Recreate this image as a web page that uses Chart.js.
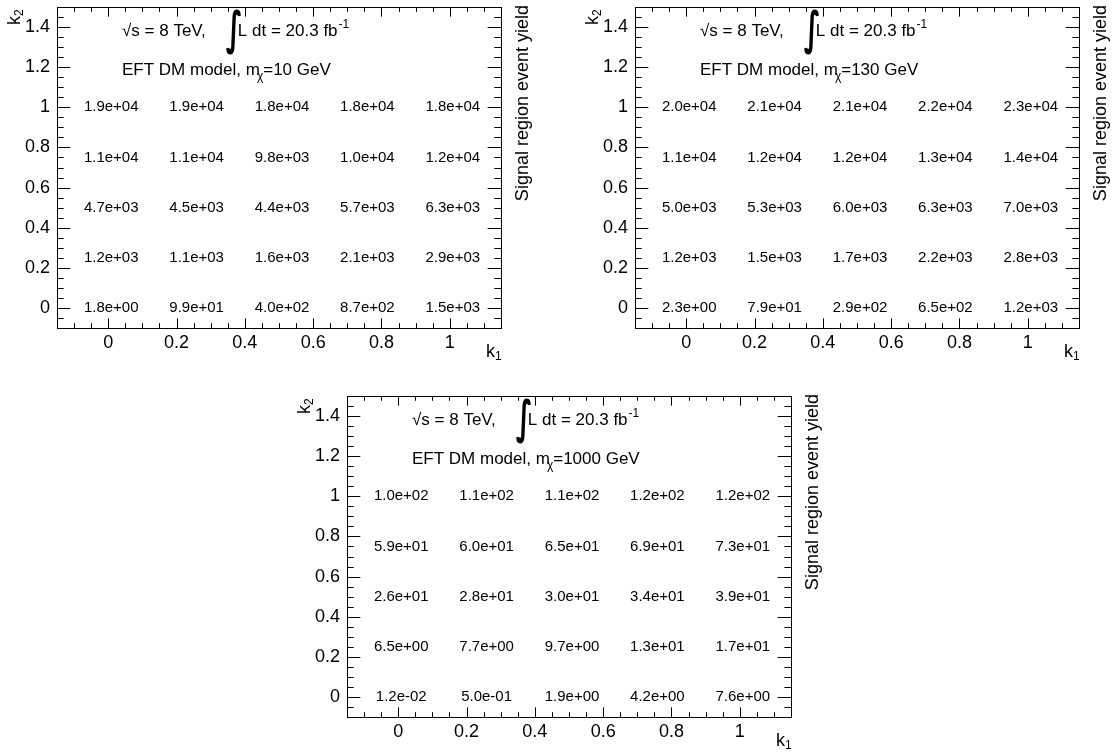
<!DOCTYPE html>
<html><head><meta charset="utf-8">
<script src="https://cdn.jsdelivr.net/npm/chart.js@4.4.1/dist/chart.umd.min.js"></script>
<style>
html,body{margin:0;padding:0;background:#fff;overflow:hidden;width:1114px;height:753px;position:relative;}
canvas{position:absolute;}
</style></head><body>
<canvas id="c1" width="536" height="375" style="left:0px;top:0px"></canvas>
<canvas id="c2" width="536" height="375" style="left:578px;top:0px"></canvas>
<canvas id="c3" width="536" height="375" style="left:290px;top:389px"></canvas>
<script>
// ---- data ----
const k1Values = [0, 0.25, 0.5, 0.75, 1];
const k2Values = [1, 0.75, 0.5, 0.25, 0];
const xTickValues = [0, 0.2, 0.4, 0.6, 0.8, 1];
const yTickValues = [0, 0.2, 0.4, 0.6, 0.8, 1, 1.2, 1.4];
const massLabels = ['10', '130', '1000'];
// rows follow k2Values (top to bottom), columns follow k1Values
const yieldM10 = [
  [1.9e4, 1.9e4, 1.8e4, 1.8e4, 1.8e4],
  [1.1e4, 1.1e4, 9.8e3, 1.0e4, 1.2e4],
  [4.7e3, 4.5e3, 4.4e3, 5.7e3, 6.3e3],
  [1.2e3, 1.1e3, 1.6e3, 2.1e3, 2.9e3],
  [1.8e0, 9.9e1, 4.0e2, 8.7e2, 1.5e3]
];
const yieldM130 = [
  [2.0e4, 2.1e4, 2.1e4, 2.2e4, 2.3e4],
  [1.1e4, 1.2e4, 1.2e4, 1.3e4, 1.4e4],
  [5.0e3, 5.3e3, 6.0e3, 6.3e3, 7.0e3],
  [1.2e3, 1.5e3, 1.7e3, 2.2e3, 2.8e3],
  [2.3e0, 7.9e1, 2.9e2, 6.5e2, 1.2e3]
];
const yieldM1000 = [
  [1.0e2, 1.1e2, 1.1e2, 1.2e2, 1.2e2],
  [5.9e1, 6.0e1, 6.5e1, 6.9e1, 7.3e1],
  [2.6e1, 2.8e1, 3.0e1, 3.4e1, 3.9e1],
  [6.5e0, 7.7e0, 9.7e0, 1.3e1, 1.7e1],
  [1.2e-2, 5.0e-1, 1.9e0, 4.2e0, 7.6e0]
];
const yieldTables = [yieldM10, yieldM130, yieldM1000];

// ---- helpers ----
const FONT = '"Liberation Sans", Arial, Helvetica, sans-serif';
function fmt(v) {
  return v.toExponential(1).replace(/e([+-])(\d+)$/, (m, s, d) => 'e' + s + (d.length < 2 ? '0' + d : d));
}
Chart.defaults.color = '#000';
Chart.defaults.font.family = FONT;

const rootPlugin = {
  id: 'rootStyle',
  afterDatasetsDraw(chart) {
    const ctx = chart.ctx;
    ctx.save();
    ctx.fillStyle = '#000';
    ctx.font = '15px ' + FONT;
    ctx.textAlign = 'center';
    ctx.textBaseline = 'middle';
    const meta = chart.getDatasetMeta(0);
    const ds = chart.data.datasets[0];
    meta.data.forEach((el, i) => {
      ctx.fillText(fmt(ds.data[i].v), el.x + 3, el.y);
    });
    ctx.restore();
  },
  afterDraw(chart, args, opts) {
    const ctx = chart.ctx;
    const a = chart.chartArea;
    const xs = chart.scales.x, ys = chart.scales.y;
    ctx.save();
    ctx.strokeStyle = '#000';
    ctx.lineWidth = 1;
    // frame
    ctx.strokeRect(Math.round(a.left) + 0.5, Math.round(a.top) + 0.5, Math.round(a.right - a.left), Math.round(a.bottom - a.top));
    // ticks
    const w = a.right - a.left, h = a.bottom - a.top;
    const xMaj = 0.03 * h, xMin = xMaj / 2, yMaj = 0.03 * w, yMin = yMaj / 2;
    ctx.beginPath();
    for (let i = -3; i <= 23; i++) {
      const v = i * 0.05;
      if (v < xs.min - 1e-9 || v > xs.max + 1e-9) continue;
      const px = Math.round(xs.getPixelForValue(v)) + 0.5;
      const len = (i % 4 === 0) ? xMaj : xMin;
      ctx.moveTo(px, a.bottom); ctx.lineTo(px, a.bottom - len);
      ctx.moveTo(px, a.top); ctx.lineTo(px, a.top + len);
    }
    for (let i = -2; i <= 30; i++) {
      const v = i * 0.05;
      if (v < ys.min - 1e-9 || v > ys.max + 1e-9) continue;
      const py = Math.round(ys.getPixelForValue(v)) + 0.5;
      const len = (i % 4 === 0) ? yMaj : yMin;
      ctx.moveTo(a.left, py); ctx.lineTo(a.left + len, py);
      ctx.moveTo(a.right, py); ctx.lineTo(a.right - len, py);
    }
    ctx.stroke();

    ctx.fillStyle = '#000';
    ctx.textAlign = 'left';
    ctx.textBaseline = 'alphabetic';
    // header line 1
    let x = a.left + 65;
    let y = a.top + 29;
    ctx.font = '17px ' + FONT;
    let t = '\u221As = 8 TeV,';
    ctx.fillText(t, x, y); x += ctx.measureText(t).width + 20;
    ctx.save();
    ctx.translate(x, y + 8);
    ctx.scale(0.6, 1);
    ctx.font = 'bold 46px "DejaVu Sans"';
    ctx.fillText('\u222B', 0, 0);
    ctx.restore();
    x += 12;
    ctx.font = '17px ' + FONT;
    t = 'L dt = 20.3 fb';
    ctx.fillText(t, x, y); x += ctx.measureText(t).width;
    ctx.font = '12px ' + FONT;
    ctx.fillText('-1', x + 1, y - 8);
    // header line 2
    x = a.left + 65;
    y = a.top + 68;
    ctx.font = '17px ' + FONT;
    t = 'EFT DM model, m';
    ctx.fillText(t, x, y); x += ctx.measureText(t).width;
    ctx.font = '12px ' + FONT;
    ctx.fillText('\u03C7', x - 3, y + 5); x += ctx.measureText('\u03C7').width - 3;
    ctx.font = '17px ' + FONT;
    ctx.fillText('=' + opts.mass + ' GeV', x, y);

    // x axis title k1
    ctx.font = '18px ' + FONT;
    ctx.fillText('k', a.right - 15, a.bottom + 29);
    ctx.font = '12px ' + FONT;
    ctx.fillText('1', a.right - 6, a.bottom + 32);
    // y axis title k2 (rotated)
    ctx.save();
    ctx.translate(a.left - 37, a.top + 18);
    ctx.rotate(-Math.PI / 2);
    ctx.font = '18px ' + FONT;
    ctx.fillText('k', 0, 0);
    ctx.font = '12px ' + FONT;
    ctx.fillText('2', 9, 3);
    ctx.restore();
    // z title
    ctx.save();
    ctx.translate(a.right + 27, a.top - 2);
    ctx.rotate(-Math.PI / 2);
    ctx.textAlign = 'right';
    ctx.font = '18px ' + FONT;
    ctx.fillText('Signal region event yield', 0, 0);
    ctx.restore();
    ctx.restore();
  }
};

function makeChart(id, table, mass) {
  const pts = [];
  k2Values.forEach((k2, r) => {
    k1Values.forEach((k1, c) => {
      pts.push({ x: k1, y: k2, v: table[r][c] });
    });
  });
  new Chart(document.getElementById(id), {
    type: 'scatter',
    data: { datasets: [{ data: pts, pointRadius: 0, pointHoverRadius: 0, showLine: false }] },
    plugins: [rootPlugin],
    options: {
      responsive: false,
      animation: false,
      events: [],
      layout: { padding: { left: 0, top: 7, right: 35, bottom: 0 } },
      plugins: { legend: { display: false }, tooltip: { enabled: false }, rootStyle: { mass: mass } },
      scales: {
        x: {
          type: 'linear', min: -0.15, max: 1.15,
          grid: { display: false, drawTicks: false },
          border: { display: false },
          afterBuildTicks: s => { s.ticks = xTickValues.map(v => ({ value: v })); },
          afterFit: s => { s.height = 47; s.paddingLeft = 0; s.paddingRight = 0; },
          ticks: { padding: 4, maxRotation: 0, autoSkip: false, font: { size: 18 }, callback: v => String(Math.round(v * 10) / 10) }
        },
        y: {
          type: 'linear', min: -0.1, max: 1.5,
          grid: { display: false, drawTicks: false },
          border: { display: false },
          afterBuildTicks: s => { s.ticks = yTickValues.map(v => ({ value: v })); },
          afterFit: s => { s.width = 57; s.paddingTop = 0; s.paddingBottom = 0; },
          ticks: { padding: 7, autoSkip: false, font: { size: 18 }, callback: v => String(Math.round(v * 10) / 10) }
        }
      }
    }
  });
}
makeChart('c1', yieldTables[0], massLabels[0]);
makeChart('c2', yieldTables[1], massLabels[1]);
makeChart('c3', yieldTables[2], massLabels[2]);
</script>
</body></html>
